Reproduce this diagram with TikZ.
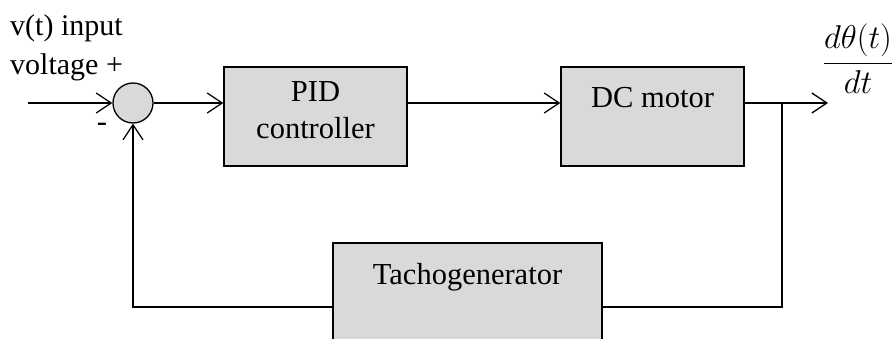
\RequirePackage{fix-cm}
\documentclass[tikz,border=0pt]{standalone}
\usepackage{fontspec}
\setmainfont{Liberation Serif}
\usetikzlibrary{positioning,arrows.meta}
\definecolor{boxgray}{HTML}{D9D9D9}

\begin{document}
\begin{tikzpicture}[x=1pt,y=-1pt,
        blok/.style={draw,line width=1.3pt,fill=boxgray,inner sep=0pt},
        lbl/.style={inner sep=0pt,font=\fontsize{30.5}{37}\selectfont,align=center},
        sig/.style={line width=1.3pt,-{Straight Barb[length=15pt,width=20pt]}},
        wire/.style={line width=1.3pt}]
            \clip (0,0) rectangle (894,339);

            \node [blok,circle,minimum size=40pt] (sum) at (133,103) {};
            \node [blok,minimum width=183pt,minimum height=99pt] (pid) at (315.5,116.5) {};
            \node [blok,minimum width=183pt,minimum height=99pt] (motor) at (652.5,116.5) {};
            \node [blok,minimum width=269pt,minimum height=128pt] (tacho) at (467.5,307) {};

            \node [lbl,below=15pt of pid.north] (pidtext) {PID\\controller};
            \node [lbl,below=21pt of motor.north] (motortext) {DC motor};
            \node [lbl,below=21pt of tacho.north] (tachotext) {Tachogenerator};
            \node [lbl,font=\fontsize{30}{39}\selectfont,align=left,anchor=north west] (input) at (10,14) {v(t) input\\voltage +};
            \node [lbl] (minus) at (102,127) {-};
            \node [inner sep=0pt,font=\fontsize{33}{40}\selectfont] (rate) at (858,59) {$\displaystyle\frac{d\theta(t)}{dt}$};

            \coordinate (in) at (28,103);
            \coordinate (branch) at (782,103);
            \coordinate (out) at (828,103);

            \draw [sig] (in) -- (sum);
            \draw [sig] (sum.east) -- (sum.east -| pid.west);
            \draw [sig] (pid.east |- sum.east) -- (motor.west |- sum.east);
            \draw [sig] (motor.east |- sum.east) -- (out);
            \draw [wire] (branch) |- (tacho.east);
            \draw [sig] (tacho.west) -| (sum.south);
        \end{tikzpicture}
\end{document}
